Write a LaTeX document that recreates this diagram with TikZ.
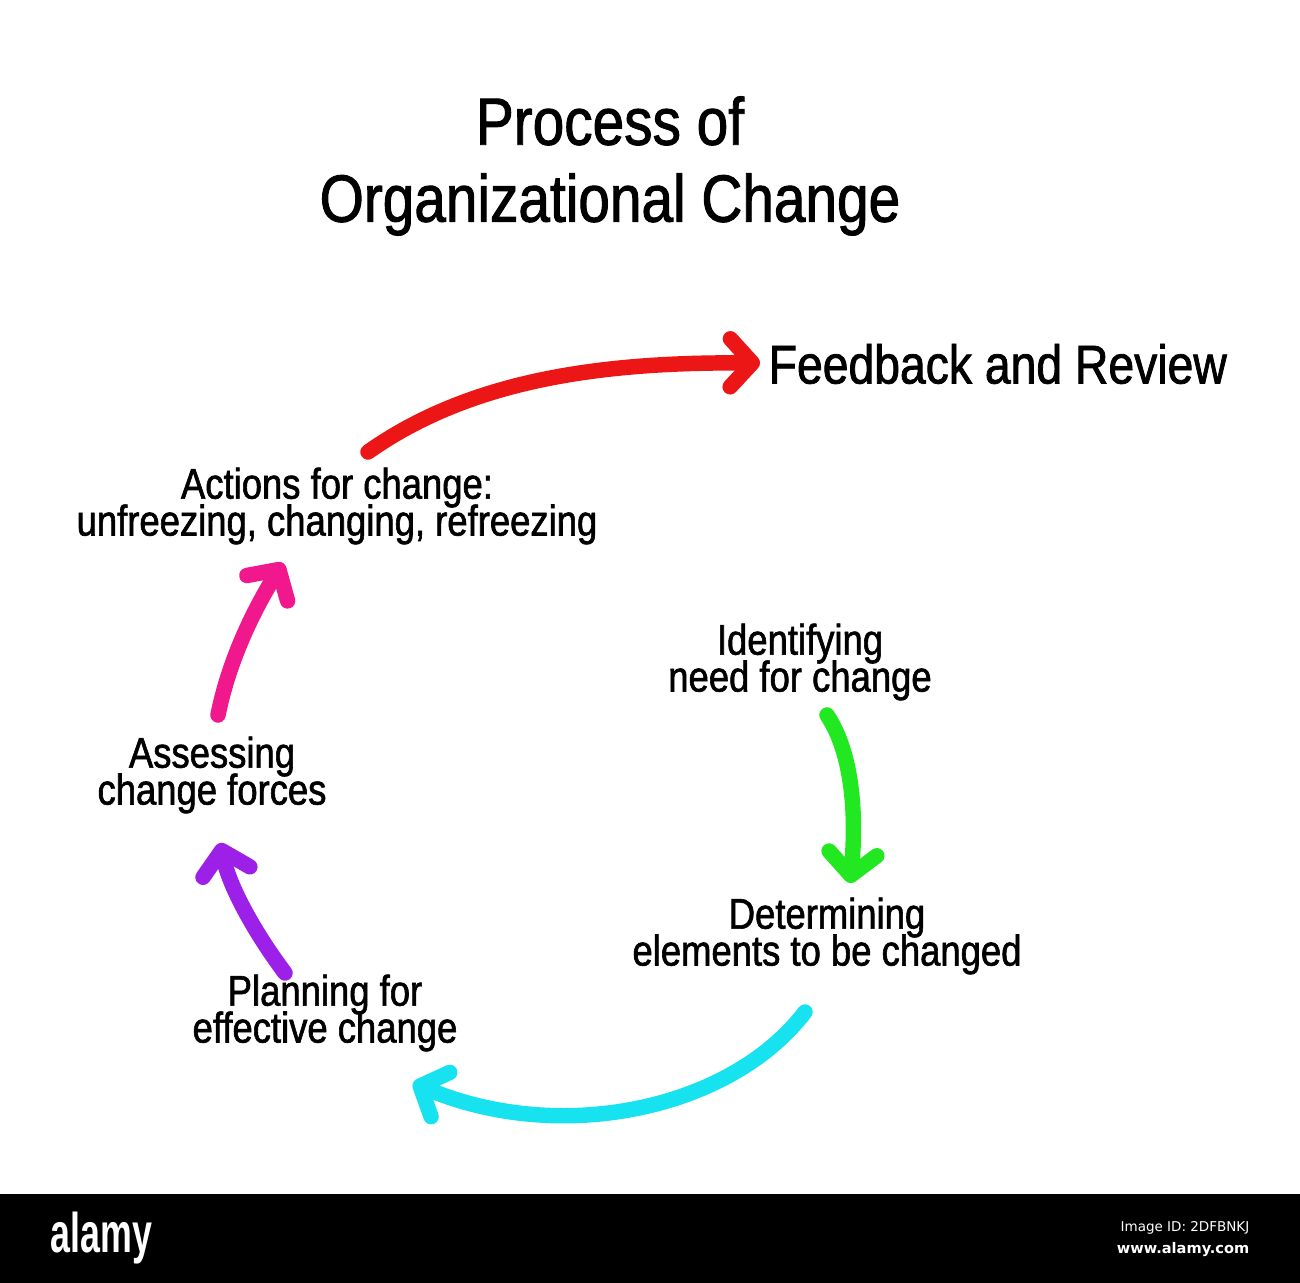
\documentclass[tikz,border=0pt]{standalone}
\usepackage{fontspec}
\setmainfont{Liberation Sans}[FakeStretch=0.85, FakeBold=1.4]
\newfontfamily\logofont{Liberation Sans}[FakeStretch=0.64]
\newfontfamily\markfont{DejaVu Sans}
\usetikzlibrary{arrows.meta}
\lineskiplimit=-20pt
\definecolor{redbrush}{RGB}{236,22,22}
\definecolor{pinkbrush}{RGB}{240,24,140}
\definecolor{greenbrush}{RGB}{34,232,34}
\definecolor{cyanbrush}{RGB}{22,226,240}
\definecolor{purplebrush}{RGB}{156,32,232}
\tikzstyle{heading} = [align=center,
                       inner sep=0pt,
                       font=\fontsize{19}{21.9}\selectfont]
\tikzstyle{stage} = [align=center,
                     inner sep=0pt,
                     font=\fontsize{12.2}{10.5}\selectfont]
\tikzstyle{brush} = [line width=4.4pt,
                     line cap=round,
                     -{Straight Barb[length=2.2mm, width=4.8mm, round]}]

\begin{document}
\begin{tikzpicture}

    \useasboundingbox (0,0) rectangle (13,-12.83);

    \node (title)  [heading]                       at (6.1,-1.66)  {Process of\\Organizational Change};
    \node (review) [stage, anchor=west, font=\fontsize{15.5}{16}\selectfont] at (7.68,-3.64) {Feedback and Review};
    \node (action) [stage]                         at (3.37,-5.06) {Actions for change:\\unfreezing, changing, refreezing};
    \node (ident)  [stage]                         at (8.0,-6.62)  {Identifying\\need for change};
    \node (assess) [stage]                         at (2.12,-7.75) {Assessing\\change forces};
    \node (determ) [stage]                         at (8.27,-9.36) {Determining\\elements to be changed};
    \node (plan)   [stage]                         at (3.25,-10.13) {Planning for\\effective change};

    \coordinate (redA)    at (3.68,-4.52);
    \coordinate (redB)    at (7.6,-3.63);
    \coordinate (greenA)  at (8.27,-7.15);
    \coordinate (greenB)  at (8.5,-8.83);
    \coordinate (cyanA)   at (8.05,-10.12);
    \coordinate (cyanB)   at (4.13,-10.83);
    \coordinate (purpleA) at (2.85,-9.73);
    \coordinate (purpleB) at (2.2,-8.43);
    \coordinate (pinkA)   at (2.18,-7.15);
    \coordinate (pinkB)   at (2.83,-5.63);

    \draw [brush, greenbrush]  (greenA)  .. controls +(0.3,-0.45) and +(0.05,0.5)   .. (greenB);
    \draw [brush, cyanbrush]   (cyanA)   .. controls +(-0.75,-0.98) and +(1.47,-0.62) .. (cyanB);
    \draw [brush, purplebrush] (purpleA) .. controls +(-0.3,0.4)  and +(0.1,-0.45)  .. (purpleB);
    \draw [brush, pinkbrush]   (pinkA)   .. controls +(0.12,0.6)  and +(-0.25,-0.4) .. (pinkB);
    \draw [brush, redbrush]    (redA)    .. controls +(1.02,0.72) and +(-1.6,0.01)  .. (redB);

    % watermark band
    \fill [black] (0,-11.94) rectangle (13,-12.83);
    \node (logo) [anchor=base west, inner sep=0pt, text=white, font=\logofont\bfseries\fontsize{15.9}{16}\selectfont] at (0.5,-12.52) {alamy};
    \node (imgid) [anchor=base east, inner sep=0pt, text=white, font=\markfont\fontsize{3.84}{4}\selectfont] at (12.5,-12.31) {Image ID: 2DFBNKJ};
    \node (site)  [anchor=base east, inner sep=0pt, text=white, font=\markfont\bfseries\fontsize{4.15}{5}\selectfont] at (12.5,-12.53) {www.alamy.com};

\end{tikzpicture}
\end{document}
